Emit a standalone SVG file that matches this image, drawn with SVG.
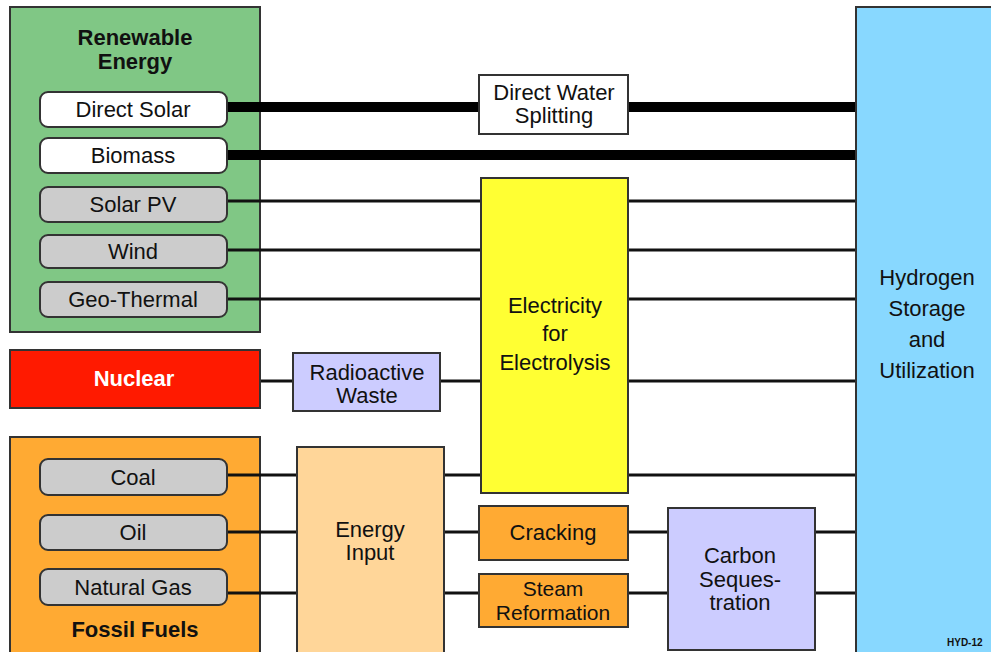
<svg xmlns="http://www.w3.org/2000/svg" width="991" height="652" viewBox="0 0 991 652">
<style>
text{font-family:"Liberation Sans",Arial,sans-serif;font-size:22px;fill:#111;text-anchor:middle}
.b{font-weight:bold}
.box{stroke:#333;stroke-width:2}
.pill{stroke:#333;stroke-width:2;fill:#cccccc}
.w{fill:#ffffff}
.thin{stroke:#111;stroke-width:3;fill:none}
.thick{stroke:#000;stroke-width:10;fill:none}
</style>
<rect width="991" height="652" fill="#fff"/>
<g id="renewable">
<rect class="box" x="10" y="7" width="250" height="325" fill="#80c785"/>
<text class="b" x="135" y="45">Renewable</text>
<text class="b" x="135" y="69">Energy</text>
</g>
<g id="fossil">
<rect class="box" x="10" y="437" width="250" height="225" fill="#ffaa33"/>
<text class="b" x="135" y="637">Fossil Fuels</text>
</g>
<g id="connectors">
<path class="thick" d="M227 107H479M628 107H857M227 155H857"/>
<path class="thin" d="M227 201H481M628 201H857M227 250H481M628 250H857M227 299H481M628 299H857"/>
<path class="thin" d="M260 381H293M440 381H481M628 381H857"/>
<path class="thin" d="M227 475H297M444 475H481M628 475H857"/>
<path class="thin" d="M227 532H297M444 532H479M628 532H668M815 532H857"/>
<path class="thin" d="M227 593H297M444 593H479M628 593H668M815 593H857"/>
</g>
<g id="direct-solar"><rect class="pill w" x="40" y="92" width="187" height="35" rx="8"/><text x="133" y="117">Direct Solar</text></g>
<g id="biomass"><rect class="pill w" x="40" y="138" width="187" height="35" rx="8"/><text x="133" y="163">Biomass</text></g>
<g id="solar-pv"><rect class="pill" x="40" y="187" width="187" height="35" rx="8"/><text x="133" y="212">Solar PV</text></g>
<g id="wind"><rect class="pill" x="40" y="235" width="187" height="33" rx="8"/><text x="133" y="259">Wind</text></g>
<g id="geo-thermal"><rect class="pill" x="40" y="282" width="187" height="35" rx="8"/><text x="133" y="307">Geo-Thermal</text></g>
<g id="nuclear"><rect class="box" x="10" y="350" width="250" height="58" fill="#ff1a00"/><text class="b" x="134" y="386" style="fill:#fff">Nuclear</text></g>
<g id="radioactive-waste"><rect class="box" x="293" y="353" width="147" height="58" fill="#ccccff"/><text x="367" y="380">Radioactive</text><text x="367" y="403">Waste</text></g>
<g id="coal"><rect class="pill" x="40" y="459" width="187" height="36" rx="8"/><text x="133" y="485">Coal</text></g>
<g id="oil"><rect class="pill" x="40" y="515" width="187" height="35" rx="8"/><text x="133" y="540">Oil</text></g>
<g id="natural-gas"><rect class="pill" x="40" y="569" width="187" height="36" rx="8"/><text x="133" y="595">Natural Gas</text></g>
<g id="direct-water-splitting"><rect class="box" x="479" y="75" width="149" height="59" fill="#fff"/><text x="554" y="100">Direct Water</text><text x="554" y="123">Splitting</text></g>
<g id="electricity"><rect class="box" x="481" y="178" width="147" height="315" fill="#ffff33"/><text x="555" y="313">Electricity</text><text x="555" y="341">for</text><text x="555" y="370">Electrolysis</text></g>
<g id="energy-input"><rect class="box" x="297" y="447" width="147" height="215" fill="#ffd699"/><text x="370" y="537">Energy</text><text x="370" y="560">Input</text></g>
<g id="cracking"><rect class="box" x="479" y="506" width="149" height="54" fill="#ffaa33"/><text x="553" y="540">Cracking</text></g>
<g id="steam-reformation"><rect class="box" x="479" y="574" width="149" height="53" fill="#ffaa33"/><text x="553" y="596" style="font-size:21px">Steam</text><text x="553" y="620" style="font-size:21px">Reformation</text></g>
<g id="carbon-sequestration"><rect class="box" x="668" y="508" width="147" height="142" fill="#ccccff"/><text x="740" y="563">Carbon</text><text x="740" y="587">Seques-</text><text x="740" y="610">tration</text></g>
<g id="hydrogen"><rect class="box" x="856" y="7" width="145" height="655" fill="#88d8ff"/><text x="927" y="285">Hydrogen</text><text x="927" y="316">Storage</text><text x="927" y="347">and</text><text x="927" y="378">Utilization</text>
<text class="b" x="947" y="646" style="font-size:10px;text-anchor:start">HYD-12</text></g>
</svg>
